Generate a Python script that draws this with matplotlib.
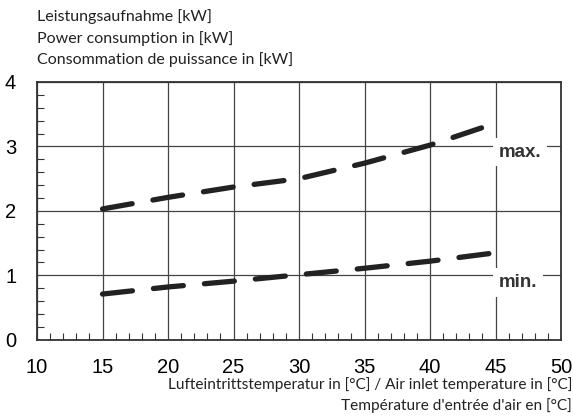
import matplotlib.pyplot as plt
from matplotlib.ticker import MultipleLocator

temp = [15, 20, 25, 30, 35, 40, 45]
p_max = [2.03, 2.21, 2.37, 2.50, 2.74, 3.02, 3.36]
p_min = [0.71, 0.82, 0.91, 1.01, 1.11, 1.22, 1.35]
x_ticks = [10, 15, 20, 25, 30, 35, 40, 45, 50]
y_ticks = [0, 1, 2, 3, 4]

fig = plt.figure(figsize=(5.73, 4.18), dpi=100)
ax = fig.add_axes([0.0646, 0.187, 0.9145, 0.617])

ax.set_xlim(10, 50)
ax.set_ylim(0, 4)
ax.set_xticks(x_ticks)
ax.set_yticks(y_ticks)
ax.xaxis.set_minor_locator(MultipleLocator(1))
ax.yaxis.set_minor_locator(MultipleLocator(0.2))
ax.grid(True, which='major', color='#444444', linewidth=0.9)
ax.tick_params(which='major', length=0, labelsize=14.5, pad=13)
ax.tick_params(which='minor', direction='in', length=5, width=0.8, color='#333333')
ax.tick_params(axis='y', which='major', pad=15)
for lab in ax.get_xticklabels() + ax.get_yticklabels():
    lab.set_family('Liberation Sans')
for s in ax.spines.values():
    s.set_linewidth(1.3)
    s.set_color('#333333')

ax.plot(temp, p_max, color='#222222', linewidth=3.8, dashes=(5.7, 4.0), dash_capstyle='round')
ax.plot(temp, p_min, color='#222222', linewidth=3.8, dashes=(5.7, 4.0), dash_capstyle='round')

bb = dict(facecolor='white', edgecolor='none', pad=4)
ax.text(45.25, 2.91, 'max.', fontsize=13.5, fontweight='bold', family='Liberation Sans',
        color='#333333', va='center', ha='left', bbox=bb)
ax.text(45.25, 0.89, 'min.', fontsize=13.5, fontweight='bold', family='Liberation Sans',
        color='#333333', va='center', ha='left', bbox=bb)

title = ['Leistungsaufnahme [kW]', 'Power consumption in [kW]', 'Consommation de puissance in [kW]']
for i, t in enumerate(title):
    fig.text(37 / 573, 1 - (17 + 21.5 * i) / 418, t, fontsize=11.5, family='Lato',
             va='center', ha='left', color='#222222')

fig.text(572 / 573, 1 - 385 / 418, 'Lufteintrittstemperatur in [°C] / Air inlet temperature in [°C]',
         fontsize=11.1, family='Lato', va='center', ha='right', color='#222222')
fig.text(572 / 573, 1 - 406 / 418, "Température d'entrée d'air en [°C]",
         fontsize=11.1, family='Lato', va='center', ha='right', color='#222222')

fig.savefig('out.png', dpi=100)
